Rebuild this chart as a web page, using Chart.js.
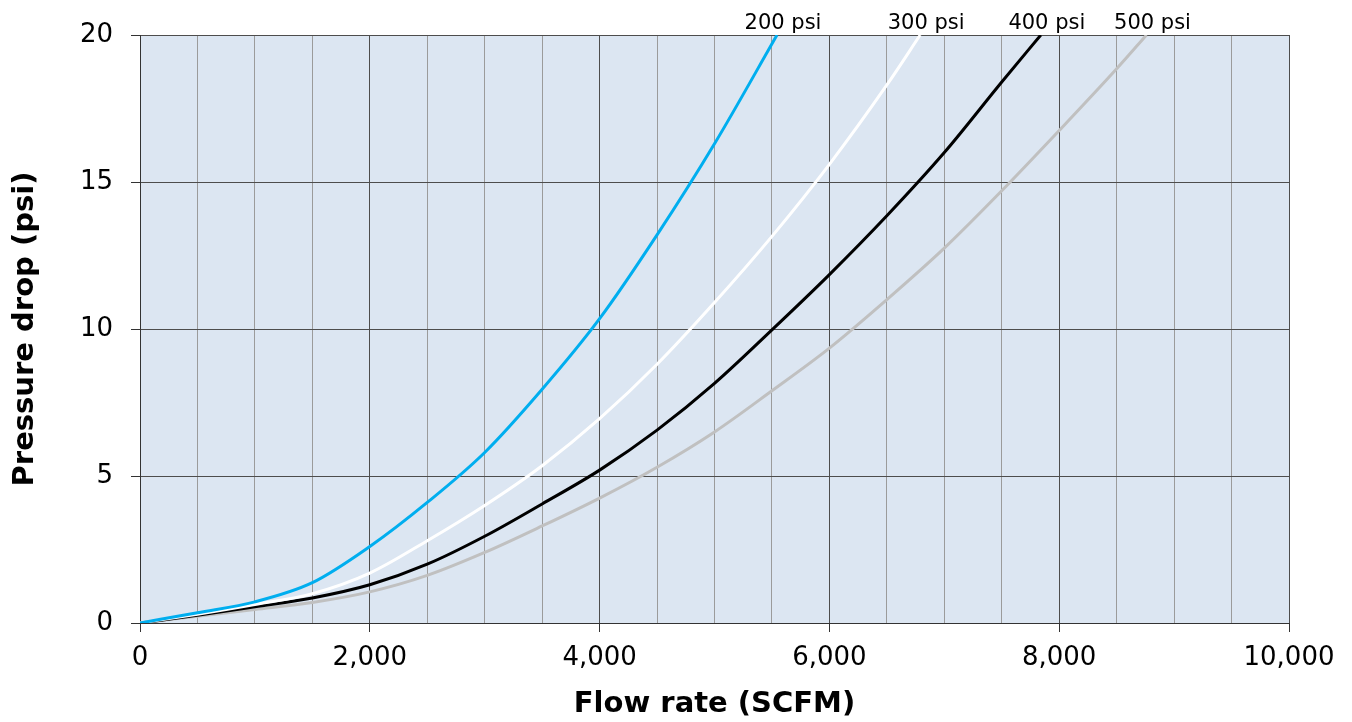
<!DOCTYPE html>
<html><head><meta charset="utf-8">
<script src="https://cdn.jsdelivr.net/npm/chart.js@4.4.1/dist/chart.umd.min.js"></script>
<style>html,body{margin:0;padding:0;background:#fff;overflow:hidden}</style>
</head><body>
<canvas id="c" width="1352" height="722"></canvas>
<script>
// ---- data ----
const seriesNames = ['200 psi', '300 psi', '400 psi', '500 psi'];
const flow200 = [0, 500, 1000, 1500, 2000, 2500, 3000, 3500, 4000, 4500, 5000, 5544];
const drop200 = [0, 0.35, 0.72, 1.37, 2.6, 4.1, 5.8, 7.95, 10.35, 13.2, 16.3, 20];
const flow300 = [0, 500, 1000, 1500, 2000, 2500, 3000, 3500, 4000, 4500, 5000, 5500, 6000, 6500, 6790];
const drop300 = [0, 0.3, 0.63, 1.0, 1.7, 2.8, 4.0, 5.35, 6.95, 8.8, 10.9, 13.15, 15.6, 18.3, 20];
const flow400 = [0, 500, 1000, 1500, 2000, 2500, 3000, 3500, 4000, 4500, 5000, 5500, 6000, 6500, 7000, 7500, 7840];
const drop400 = [0, 0.26, 0.55, 0.85, 1.3, 2.0, 2.95, 4.05, 5.2, 6.56, 8.15, 9.97, 11.85, 13.85, 16.0, 18.4, 20];
const flow500 = [0, 500, 1000, 1500, 2000, 2500, 3000, 3500, 4000, 4500, 5000, 5500, 6000, 6500, 7000, 7500, 8000, 8500, 8760];
const drop500 = [0, 0.23, 0.46, 0.7, 1.06, 1.62, 2.4, 3.3, 4.25, 5.3, 6.5, 7.9, 9.35, 11.0, 12.75, 14.7, 16.75, 18.85, 20];
const xTickValues = [0, 2000, 4000, 6000, 8000, 10000];
const xTickLabels = ['0', '2,000', '4,000', '6,000', '8,000', '10,000'];
const yTickValues = [0, 5, 10, 15, 20];
const xTitle = 'Flow rate (SCFM)';
const yTitle = 'Pressure drop (psi)';

const colors = ['#00aeef', '#ffffff', '#000000', '#c0c0c0'];
const pts = (xs, ys) => xs.map((x, i) => ({x: x, y: ys[i]}));
const flows = [flow200, flow300, flow400, flow500];
const drops = [drop200, drop300, drop400, drop500];

const bgPlugin = {
  id: 'bg',
  beforeDraw(chart) {
    const {ctx, chartArea: a} = chart;
    ctx.save();
    ctx.fillStyle = '#dce6f2';
    ctx.fillRect(a.left, a.top, a.right - a.left, a.bottom - a.top);
    ctx.restore();
  }
};
const labelPlugin = {
  id: 'endLabels',
  afterDraw(chart) {
    const ctx = chart.ctx;
    ctx.save();
    ctx.font = '21px "DejaVu Sans"';
    ctx.fillStyle = '#000';
    ctx.textAlign = 'center';
    ctx.textBaseline = 'alphabetic';
    chart.data.datasets.forEach((ds, i) => {
      const meta = chart.getDatasetMeta(i);
      const last = meta.data[meta.data.length - 1];
      ctx.fillText(ds.label, last.x + 6, last.y - 6);
    });
    ctx.restore();
  }
};

const isMajorX = v => xTickValues.includes(v);

new Chart(document.getElementById('c'), {
  type: 'line',
  data: {
    datasets: seriesNames.map((n, i) => ({
      label: n,
      data: pts(flows[i], drops[i]),
      borderColor: colors[i],
      borderWidth: 3,
      pointRadius: 0,
      fill: false,
      cubicInterpolationMode: 'monotone'
    }))
  },
  options: {
    responsive: false,
    animation: false,
    layout: {padding: {top: 35, right: 63, left: 0, bottom: 0}},
    plugins: {legend: {display: false}, tooltip: {enabled: false}},
    scales: {
      x: {
        type: 'linear', min: 0, max: 10000,
        afterFit: s => { s.height = 99; },
        ticks: {
          stepSize: 500, autoSkip: false, maxRotation: 0, padding: 11,
          color: '#000', font: {family: 'DejaVu Sans', size: 26},
          callback: v => { const k = xTickValues.indexOf(v); return k >= 0 ? xTickLabels[k] : ''; }
        },
        grid: {
          color: c => isMajorX(c.tick.value) ? '#4d4d4d' : '#9b9b9b',
          tickColor: c => isMajorX(c.tick.value) ? '#333' : 'rgba(0,0,0,0)',
          tickLength: 9, lineWidth: 1
        },
        border: {display: true, color: '#333', width: 1},
        title: {display: true, text: xTitle, color: '#000', font: {family: 'DejaVu Sans', size: 29, weight: 'bold'}, padding: {top: 0, bottom: 0}}
      },
      y: {
        type: 'linear', min: 0, max: 20,
        afterFit: s => { s.width = 140; },
        ticks: {
          stepSize: 5, padding: 18, color: '#000', font: {family: 'DejaVu Sans', size: 26},
          callback: v => yTickValues.includes(v) ? String(v) : ''
        },
        grid: {color: '#4d4d4d', tickColor: '#333', tickLength: 9, lineWidth: 1},
        border: {display: true, color: '#333', width: 1},
        title: {display: true, text: yTitle, color: '#000', font: {family: 'DejaVu Sans', size: 29, weight: 'bold'}, padding: {top: 8, bottom: 0}}
      }
    }
  },
  plugins: [bgPlugin, labelPlugin]
});
</script>
</body></html>
